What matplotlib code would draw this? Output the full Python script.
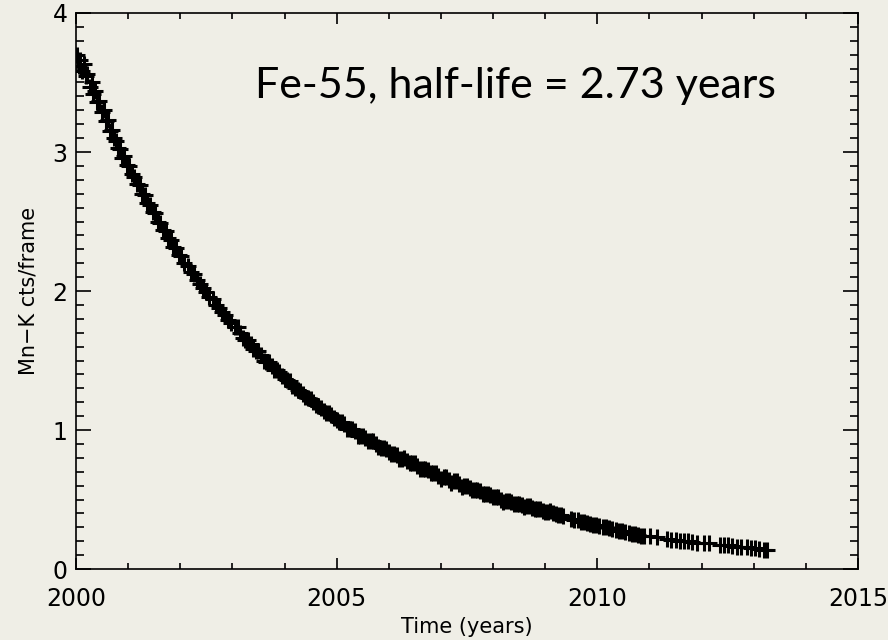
import matplotlib
matplotlib.use("Agg")
import matplotlib.pyplot as plt
from matplotlib.ticker import MultipleLocator

# Fe-55 Mn-K rate
time_early = [2000.02, 2000.05, 2000.08, 2000.12, 2000.15, 2000.19, 2000.22, 2000.26, 2000.30, 2000.33,
              2000.37, 2000.41, 2000.45, 2000.49, 2000.53, 2000.57, 2000.61, 2000.65, 2000.69, 2000.73,
              2000.77, 2000.81, 2000.85, 2000.89, 2000.93, 2000.97, 2001.02, 2001.07, 2001.12, 2001.17,
              2001.22, 2001.27, 2001.32, 2001.37, 2001.42, 2001.47, 2001.52, 2001.57, 2001.62, 2001.67,
              2001.72, 2001.77, 2001.82, 2001.87, 2001.92, 2001.97, 2002.02, 2002.08, 2002.14, 2002.20,
              2002.26, 2002.32, 2002.38, 2002.44, 2002.50, 2002.56, 2002.62, 2002.68, 2002.74, 2002.80,
              2002.86, 2002.92, 2002.98]
rate_early = [3.70, 3.62, 3.66, 3.58, 3.63, 3.55, 3.56, 3.47, 3.50, 3.42,
              3.44, 3.36, 3.37, 3.29, 3.30, 3.22, 3.23, 3.15, 3.16, 3.10,
              3.08, 3.03, 3.02, 2.96, 2.97, 2.91, 2.90, 2.84, 2.82, 2.77,
              2.76, 2.70, 2.69, 2.63, 2.62, 2.57, 2.56, 2.50, 2.49, 2.44,
              2.43, 2.38, 2.37, 2.32, 2.31, 2.26, 2.25, 2.20, 2.18, 2.14,
              2.12, 2.08, 2.05, 2.02, 1.99, 1.96, 1.94, 1.90, 1.88, 1.85,
              1.83, 1.79, 1.77]

time_mid = [2003.05, 2003.15, 2003.25, 2003.35, 2003.45, 2003.55, 2003.65, 2003.75, 2003.85, 2003.95,
            2004.05, 2004.15, 2004.25, 2004.35, 2004.45, 2004.55, 2004.65, 2004.75, 2004.85, 2004.95,
            2005.05, 2005.15, 2005.25, 2005.35, 2005.45, 2005.55, 2005.65, 2005.75, 2005.85, 2005.95,
            2006.05, 2006.15, 2006.25, 2006.35, 2006.45, 2006.55, 2006.65, 2006.75, 2006.85, 2006.95,
            2007.05, 2007.15, 2007.25, 2007.35, 2007.45, 2007.55, 2007.65, 2007.75, 2007.85, 2007.95,
            2008.05, 2008.15, 2008.25, 2008.35, 2008.45, 2008.55, 2008.65, 2008.75, 2008.85, 2008.95,
            2009.05, 2009.15, 2009.25, 2009.35]
rate_mid = [1.74, 1.70, 1.65, 1.62, 1.57, 1.54, 1.49, 1.46, 1.43, 1.39,
            1.36, 1.32, 1.29, 1.26, 1.23, 1.20, 1.17, 1.14, 1.12, 1.09,
            1.06, 1.04, 1.01, 0.99, 0.96, 0.94, 0.92, 0.90, 0.87, 0.86,
            0.83, 0.82, 0.79, 0.78, 0.76, 0.74, 0.72, 0.71, 0.69, 0.67,
            0.66, 0.64, 0.63, 0.61, 0.60, 0.58, 0.57, 0.56, 0.54, 0.53,
            0.52, 0.50, 0.49, 0.48, 0.47, 0.46, 0.45, 0.44, 0.43, 0.42,
            0.41, 0.40, 0.39, 0.38]

time_mid2 = [2003.10, 2003.20, 2003.30, 2003.40, 2003.50, 2003.60, 2003.70, 2003.80, 2003.90, 2004.00,
             2004.10, 2004.20, 2004.30, 2004.40, 2004.50, 2004.60, 2004.70, 2004.80, 2004.90, 2005.00,
             2005.10, 2005.20, 2005.30, 2005.40, 2005.50, 2005.60, 2005.70, 2005.80, 2005.90, 2006.00,
             2006.10, 2006.20, 2006.30, 2006.40, 2006.50, 2006.60, 2006.70, 2006.80, 2006.90, 2007.00,
             2007.10, 2007.20, 2007.30, 2007.40, 2007.50, 2007.60, 2007.70, 2007.80, 2007.90, 2008.00,
             2008.10, 2008.20, 2008.30, 2008.40, 2008.50, 2008.60, 2008.70, 2008.80, 2008.90, 2009.00,
             2009.10, 2009.20, 2009.30]
rate_mid2 = [1.74, 1.66, 1.65, 1.58, 1.57, 1.50, 1.49, 1.43, 1.42, 1.37,
             1.35, 1.30, 1.28, 1.24, 1.22, 1.18, 1.16, 1.12, 1.11, 1.07,
             1.06, 1.01, 1.01, 0.96, 0.96, 0.92, 0.92, 0.88, 0.87, 0.84,
             0.83, 0.79, 0.80, 0.76, 0.76, 0.72, 0.72, 0.69, 0.69, 0.65,
             0.66, 0.62, 0.63, 0.59, 0.60, 0.565, 0.57, 0.54, 0.54, 0.515,
             0.52, 0.485, 0.49, 0.465, 0.47, 0.445, 0.45, 0.43, 0.43, 0.41,
             0.415, 0.395, 0.39]

time_late = [2009.50, 2009.56, 2009.62, 2009.68, 2009.74, 2009.80, 2009.86, 2009.92, 2009.98, 2010.04,
             2010.10, 2010.16, 2010.22, 2010.28,
             2010.36, 2010.42, 2010.48, 2010.54, 2010.60, 2010.66, 2010.72, 2010.78, 2010.84, 2010.90,
             2011.01, 2011.15,
             2011.34, 2011.42, 2011.50, 2011.58, 2011.66, 2011.74, 2011.82,
             2011.92, 2012.05, 2012.15,
             2012.35, 2012.43, 2012.51, 2012.59, 2012.67, 2012.75,
             2012.87, 2012.95, 2013.03, 2013.11, 2013.19, 2013.25]
rate_late = [0.360, 0.355, 0.350, 0.340, 0.335, 0.330, 0.325, 0.320, 0.315, 0.310,
             0.305, 0.300, 0.295, 0.290,
             0.280, 0.275, 0.270, 0.265, 0.260, 0.255, 0.250, 0.245, 0.240, 0.235,
             0.235, 0.230,
             0.215, 0.210, 0.210, 0.205, 0.200, 0.200, 0.195,
             0.190, 0.185, 0.185,
             0.175, 0.170, 0.170, 0.165, 0.160, 0.160,
             0.155, 0.150, 0.150, 0.145, 0.140, 0.140]

BG = "#efeee6"
time = time_early + time_mid + time_mid2 + time_late
rate = rate_early + rate_mid + rate_mid2 + rate_late

fig = plt.figure(figsize=(8.88, 6.4), dpi=100, facecolor=BG)
ax = fig.add_axes([0.0856, 0.1109, 0.8806, 0.8688])
ax.set_facecolor(BG)

ax.plot(time, rate, linestyle="none", marker="+", markersize=12, markeredgewidth=2.2, color="black")

ax.set_xlim(2000, 2015)
ax.set_ylim(0, 4)
ax.xaxis.set_major_locator(MultipleLocator(5))
ax.xaxis.set_minor_locator(MultipleLocator(1))
ax.yaxis.set_major_locator(MultipleLocator(1))
ax.yaxis.set_minor_locator(MultipleLocator(0.1))

for s in ax.spines.values():
    s.set_linewidth(1.2)
ax.tick_params(axis="both", which="both", direction="in", top=True, right=True, color="black")
ax.tick_params(axis="x", which="major", length=8, width=1.2, pad=13, labelsize=17)
ax.tick_params(axis="x", which="minor", length=4, width=1.2)
ax.tick_params(axis="y", which="major", length=11, width=1.2, pad=6, labelsize=17)
ax.tick_params(axis="y", which="minor", length=5.8, width=1.2)

ax.set_xlabel("Time (years)", fontsize=15, labelpad=4)
ax.set_ylabel("Mn\u2212K cts/frame", fontsize=15, labelpad=10)

fig.text(255 / 888, 1 - 98 / 640, "Fe-55, half-life = 2.73 years", fontsize=31,
         family="Lato", color="black", va="baseline", ha="left")

fig.savefig("out.png", dpi=100, facecolor=BG)
